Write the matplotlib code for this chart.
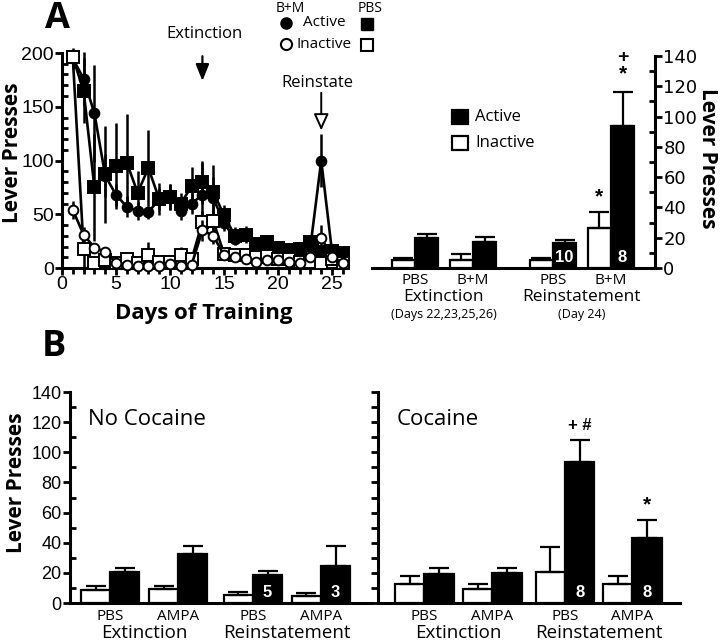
import numpy as np
import matplotlib
matplotlib.use("Agg")
import matplotlib.pyplot as plt
from matplotlib.ticker import MultipleLocator

# ---- panel A, time course (days 1-26) ----
days = np.arange(1, 27)
bm_active = [195, 176, 144, 86, 68, 57, 53, 52, 64, 66, 53, 60, 68, 65, 42, 27,
             30, 22, 20, 18, 15, 15, 20, 100, 15, 14]
bm_active_err = [10, 25, 45, 20, 10, 10, 8, 6, 10, 12, 8, 10, 30, 20, 8, 6,
                 5, 4, 4, 4, 4, 4, 6, 25, 4, 3]
pbs_active = [196, 165, 75, 87, 95, 98, 70, 93, 64, 66, 60, 76, 80, 71, 49, 30,
              31, 22, 24, 19, 17, 18, 24, 15, 16, 14]
pbs_active_err = [5, 30, 50, 45, 40, 45, 20, 35, 15, 12, 10, 18, 20, 25, 10, 8,
                  8, 6, 5, 5, 4, 4, 5, 4, 4, 4]
bm_inactive = [54, 31, 19, 15, 5, 3, 2, 2, 2, 4, 2, 3, 35, 30, 12, 10,
               8, 6, 7, 7, 6, 5, 10, 28, 10, 5]
bm_inactive_err = [8, 5, 4, 3, 2, 2, 1, 2, 1, 2, 1, 2, 10, 8, 3, 2,
                   2, 2, 2, 2, 1, 1, 3, 12, 3, 2]
pbs_inactive = [196, 18, 5, 7, 5, 8, 5, 12, 6, 6, 12, 8, 43, 44, 13, 12,
                12, 10, 11, 8, 8, 6, 6, 5, 8, 5]
pbs_inactive_err = [5, 20, 3, 3, 2, 3, 2, 12, 3, 3, 8, 4, 10, 10, 3, 3,
                    2, 2, 3, 2, 2, 2, 2, 2, 2, 2]

# ---- panel A, bar summary ----
a_groups = ["PBS", "B+M", "PBS", "B+M"]
a_inactive = [5.0, 5.5, 5.0, 26.5]
a_inactive_err = [1.6, 3.5, 1.6, 10.8]
a_active = [19.5, 17.2, 16.5, 94.0]
a_active_err = [3.2, 3.1, 1.8, 22.0]
a_n = ["", "", "10", "8"]

# ---- panel B ----
b_groups = ["PBS", "AMPA", "PBS", "AMPA"]
nococ_inactive = [8.4, 9.5, 5.0, 4.4]
nococ_inactive_err = [3.1, 1.5, 2.0, 2.2]
nococ_active = [20.3, 32.6, 18.7, 24.3]
nococ_active_err = [2.8, 4.9, 2.3, 13.2]
nococ_n = ["", "", "5", "3"]
coc_inactive = [12.3, 9.5, 20.9, 12.3]
coc_inactive_err = [5.6, 2.8, 16.1, 5.6]
coc_active = [19.4, 19.8, 93.3, 43.4]
coc_active_err = [4.0, 3.6, 14.7, 11.9]
coc_n = ["", "", "8", "8"]

SANS = "Open Sans"
NUM = "Liberation Sans"
W, H = 720, 642

fig = plt.figure(figsize=(7.2, 6.42), dpi=100)


def px_axes(x0, x1, y_top, y_bot):
    return fig.add_axes([x0 / W, 1 - y_bot / H, (x1 - x0) / W, (y_bot - y_top) / H])


def style_bar_axes(ax, right=False, labels=True):
    for s in ["top", "left" if right else "right"]:
        ax.spines[s].set_visible(False)
    for s in ["bottom", "right" if right else "left"]:
        ax.spines[s].set_linewidth(2.2)
    ax.tick_params(axis="x", length=0)
    ax.tick_params(axis="y", which="major", direction="out", length=5, width=2,
                   labelsize=13, pad=1)
    ax.tick_params(axis="y", which="minor", direction="in", length=4, width=2)
    for lab in ax.get_yticklabels():
        lab.set_fontfamily(NUM)
    if right:
        ax.yaxis.tick_right()
    if not labels:
        ax.tick_params(axis="y", labelleft=False, labelright=False)


def draw_bars(ax, pos, inact, inact_err, act, act_err, nlab, width):
    pos = np.asarray(pos)
    zeros = np.zeros(len(pos))
    ax.bar(pos - width / 2, inact, width, color="white", edgecolor="black",
           linewidth=1.6, yerr=[zeros, inact_err], capsize=7,
           error_kw=dict(elinewidth=1.6, capthick=1.6, ecolor="black"), zorder=3)
    ax.bar(pos + width / 2, act, width, color="black", edgecolor="black",
           linewidth=1.6, yerr=[zeros, act_err], capsize=7,
           error_kw=dict(elinewidth=1.6, capthick=1.6, ecolor="black"), zorder=3)
    for x, lab in zip(pos, nlab):
        if lab:
            ax.text(x + width / 2, 2, lab, color="white", ha="center", va="bottom",
                    fontsize=12, fontweight="bold", fontfamily=NUM, zorder=4)


def group_label(ax, x, text, dy_px, size):
    ax.annotate(text, xy=(x, 0), xycoords=("data", "axes fraction"),
                xytext=(0, -dy_px * 0.72), textcoords="offset points",
                ha="center", va="center", fontsize=size, fontfamily=SANS,
                annotation_clip=False)


# ================= A: time course =================
ax1 = px_axes(62, 345, 53, 268)
mk = dict(color="black", linewidth=1.9, elinewidth=1.8, capsize=0, clip_on=False,
          markeredgecolor="black", markeredgewidth=1.4)
ax1.errorbar(days, pbs_active, yerr=pbs_active_err, marker="s", markersize=8,
             markerfacecolor="black", zorder=3, **mk)
ax1.errorbar(days, bm_active, yerr=bm_active_err, marker="o", markersize=7,
             markerfacecolor="black", zorder=4, **mk)
ax1.errorbar(days, pbs_inactive, yerr=pbs_inactive_err, marker="s", markersize=8,
             markerfacecolor="white", zorder=5, **mk)
ax1.errorbar(days, bm_inactive, yerr=bm_inactive_err, marker="o", markersize=7,
             markerfacecolor="white", zorder=6, **mk)
ax1.set_xlim(0, 26.2)
ax1.set_ylim(0, 200)
ax1.spines["top"].set_visible(False)
ax1.spines["right"].set_visible(False)
ax1.spines["left"].set_linewidth(2.2)
ax1.spines["bottom"].set_linewidth(2.2)
ax1.set_xticks([0, 5, 10, 15, 20, 25])
ax1.xaxis.set_minor_locator(MultipleLocator(1))
ax1.set_yticks([0, 50, 100, 150, 200])
ax1.yaxis.set_minor_locator(MultipleLocator(10))
ax1.tick_params(which="major", direction="out", length=5, width=2, labelsize=14, pad=1)
ax1.tick_params(which="minor", axis="x", direction="out", length=4, width=2)
ax1.tick_params(which="minor", axis="y", direction="in", length=4, width=2)
for lab in ax1.get_xticklabels() + ax1.get_yticklabels():
    lab.set_fontfamily(NUM)
ax1.set_xlabel("Days of Training", fontsize=16, fontweight="bold", fontfamily=SANS,
               labelpad=7)

ax1.annotate("", xy=(13, 174), xytext=(13, 197), annotation_clip=False,
             arrowprops=dict(arrowstyle="-|>,head_length=1.0,head_width=0.4",
                             color="black", lw=1.6, shrinkA=0, shrinkB=0))
ax1.text(13.2, 218, "Extinction", ha="center", va="center", fontsize=12,
         fontfamily=SANS, clip_on=False)
ax1.annotate("", xy=(24, 128), xytext=(24, 163), annotation_clip=False,
             arrowprops=dict(arrowstyle="-|>,head_length=1.0,head_width=0.45",
                             facecolor="white", edgecolor="black", lw=1.4,
                             shrinkA=0, shrinkB=0))
ax1.text(23.6, 172, "Reinstate", ha="center", va="center", fontsize=12,
         fontfamily=SANS, clip_on=False)

# ================= A: bar summary =================
ax2 = px_axes(372, 655, 56, 268)
a_pos = [0, 1, 2.38, 3.38]
draw_bars(ax2, a_pos, a_inactive, a_inactive_err, a_active, a_active_err, a_n, 0.4)
ax2.set_xlim(-0.74, 4.14)
ax2.set_ylim(0, 140)
ax2.set_yticks(range(0, 141, 20))
ax2.yaxis.set_minor_locator(MultipleLocator(10))
ax2.set_xticks([])
style_bar_axes(ax2, right=True)
for x, g in zip(a_pos, a_groups):
    group_label(ax2, x, g, 12, 11)
group_label(ax2, 0.5, "Extinction", 29, 12.5)
group_label(ax2, 0.5, "(Days 22,23,25,26)", 46, 9)
group_label(ax2, 2.88, "Reinstatement", 29, 12.5)
group_label(ax2, 2.88, "(Day 24)", 46, 9)
ax2.text(a_pos[3] - 0.2, 47, "*", ha="center", va="center", fontsize=15,
         fontweight="bold", fontfamily=NUM)
ax2.text(a_pos[3] + 0.2, 139, "+", ha="center", va="center", fontsize=14,
         fontweight="bold", fontfamily=NUM, clip_on=False)
ax2.text(a_pos[3] + 0.2, 128, "*", ha="center", va="center", fontsize=15,
         fontweight="bold", fontfamily=NUM)
for i, (face, lab) in enumerate([("black", "Active"), ("white", "Inactive")]):
    y = 0.712 - i * 0.122
    ax2.add_patch(plt.Rectangle((0.283, y - 0.035), 0.057, 0.07,
                                transform=ax2.transAxes, facecolor=face,
                                edgecolor="black", linewidth=1.6))
    ax2.text(0.364, y, lab, transform=ax2.transAxes, ha="left", va="center",
             fontsize=12, fontfamily=SANS)

# ================= B: no cocaine / cocaine =================
b_pos = [0, 1, 2.1, 3.1]
ax3 = px_axes(70, 372, 392, 603)
draw_bars(ax3, b_pos, nococ_inactive, nococ_inactive_err, nococ_active,
          nococ_active_err, nococ_n, 0.43)
ax3.set_xlim(-0.59, 3.85)
ax3.set_ylim(0, 140)
ax3.set_yticks(range(0, 141, 20))
ax3.yaxis.set_minor_locator(MultipleLocator(10))
ax3.set_xticks([])
style_bar_axes(ax3)
ax3.text(0.06, 0.87, "No Cocaine", transform=ax3.transAxes, fontsize=16,
         fontfamily=SANS, va="center")

b_pos2 = [0, 1, 2.07, 3.06]
ax4 = px_axes(378, 680, 392, 603)
draw_bars(ax4, b_pos2, coc_inactive, coc_inactive_err, coc_active,
          coc_active_err, coc_n, 0.43)
ax4.set_xlim(-0.68, 3.76)
ax4.set_ylim(0, 140)
ax4.set_yticks(range(0, 141, 10))
ax4.set_xticks([])
style_bar_axes(ax4, labels=False)
ax4.text(0.063, 0.87, "Cocaine", transform=ax4.transAxes, fontsize=16,
         fontfamily=SANS, va="center")
ax4.text(b_pos2[2] + 0.21, 118, "+ #", ha="center", va="center", fontsize=12,
         fontweight="bold", fontfamily=NUM)
ax4.text(b_pos2[3] + 0.21, 65, "*", ha="center", va="center", fontsize=15,
         fontweight="bold", fontfamily=NUM)

for ax, pos in [(ax3, b_pos), (ax4, b_pos2)]:
    for x, g in zip(pos, b_groups):
        group_label(ax, x, g, 14, 11)
    group_label(ax, (pos[0] + pos[1]) / 2, "Extinction", 30, 13.5)
    group_label(ax, (pos[2] + pos[3]) / 2, "Reinstatement", 30, 13.5)

# ================= overlay: letters, y labels, line legend =================
ov = fig.add_axes([0, 0, 1, 1], zorder=-1)
ov.set_xlim(0, W)
ov.set_ylim(H, 0)
ov.axis("off")
ov.text(57, 19, "A", fontsize=26, fontweight="bold", fontfamily=SANS,
        ha="center", va="center")
ov.text(54, 347, "B", fontsize=26, fontweight="bold", fontfamily=SANS,
        ha="center", va="center")
ylab = dict(fontsize=15, fontweight="bold", fontfamily=SANS, ha="center", va="center")
ov.text(13, 153, "Lever Presses", rotation=90, **ylab)
ov.text(707, 158, "Lever Presses", rotation=-90, **ylab)
ov.text(17, 483, "Lever Presses", rotation=90, **ylab)
ov.text(290, 8, "B+M", fontsize=10, fontfamily=SANS, ha="center", va="center")
ov.text(370, 8, "PBS", fontsize=10, fontfamily=SANS, ha="center", va="center")
ov.plot([286], [23], marker="o", markersize=8, color="black")
ov.plot([286], [44], marker="o", markersize=8, markerfacecolor="white",
        markeredgecolor="black", markeredgewidth=1.5)
ov.plot([367], [24], marker="s", markersize=8, color="black")
ov.plot([367], [45], marker="s", markersize=8, markerfacecolor="white",
        markeredgecolor="black", markeredgewidth=1.5)
ov.text(303, 23, "Active", fontsize=11, fontfamily=SANS, va="center")
ov.text(296, 44, "Inactive", fontsize=11, fontfamily=SANS, va="center")

fig.savefig("out.png", dpi=100)
